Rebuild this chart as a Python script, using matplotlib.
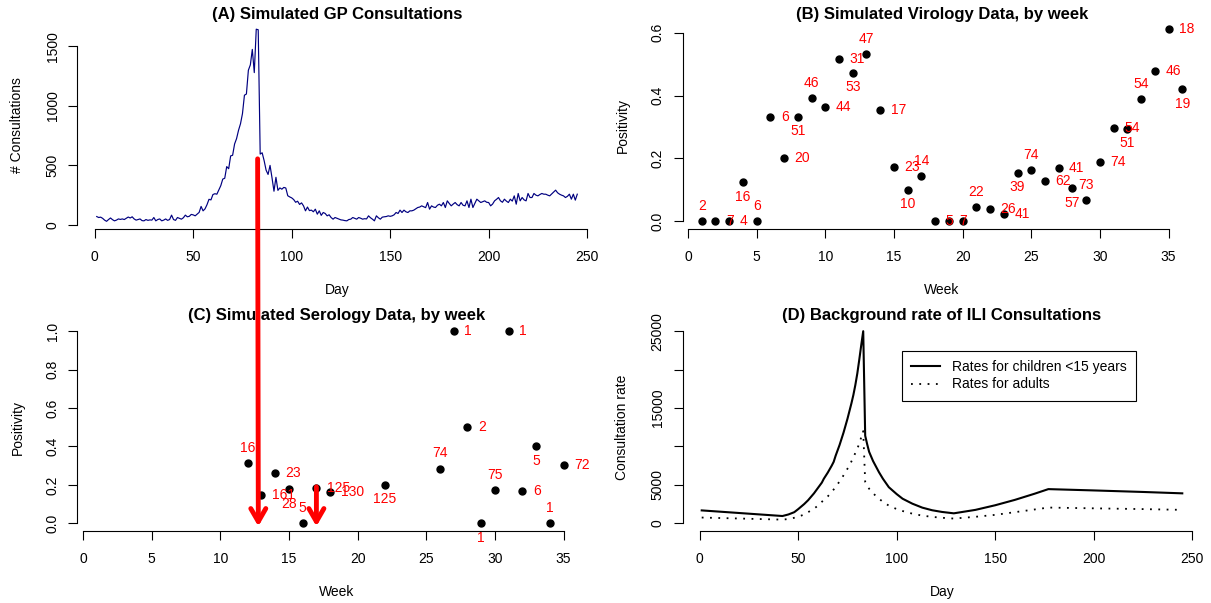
import matplotlib

matplotlib.use("Agg")
import matplotlib.pyplot as plt
from matplotlib.patches import ArrowStyle, ConnectionPatch

plt.rcParams["font.family"] = ["Liberation Sans", "DejaVu Sans"]
plt.rcParams["font.size"] = 10

# (A) simulated GP consultations, one value per day (day 1..245)
gp_counts = [
    70, 62, 65, 55, 40, 30, 45, 58, 44, 34,
    40, 50, 46, 50, 45, 55, 66, 58, 68, 50,
    40, 45, 50, 36, 34, 45, 38, 42, 40, 62,
    34, 45, 50, 34, 40, 50, 38, 45, 82, 45,
    38, 62, 55, 48, 60, 82, 68, 72, 88, 84,
    76, 90, 105, 155, 118, 135, 170, 215, 210, 255,
    262, 258, 295, 330, 385, 392, 490, 472, 580, 585,
    680, 725, 795, 850, 935, 1090, 1100, 1300, 1345, 1475,
    1280, 1645, 1640, 595, 606, 540, 460, 424, 500, 396,
    283, 400, 290, 311, 300, 315, 310, 245, 235, 227,
    213, 190, 199, 172, 185, 160, 118, 150, 120, 124,
    110, 132, 90, 118, 80, 104, 96, 76, 85, 62,
    48, 62, 55, 48, 42, 40, 36, 34, 45, 48,
    62, 55, 48, 62, 56, 48, 52, 50, 76, 60,
    48, 34, 76, 60, 48, 65, 68, 70, 76, 72,
    76, 85, 104, 96, 124, 104, 124, 110, 104, 118,
    118, 124, 135, 146, 150, 160, 152, 145, 188, 132,
    160, 150, 146, 165, 174, 160, 188, 146, 202, 180,
    160, 175, 188, 170, 160, 188, 165, 160, 202, 146,
    216, 146, 180, 216, 202, 188, 195, 202, 190, 188,
    160, 175, 202, 215, 230, 202, 190, 216, 200, 188,
    216, 200, 244, 174, 264, 202, 230, 210, 202, 264,
    230, 230, 264, 250, 244, 255, 264, 258, 258, 250,
    244, 260, 275, 292, 270, 258, 250, 244, 230, 240,
    258, 216, 258, 208, 258,
]
gp_days = list(range(1, len(gp_counts) + 1))

# (B) virology: positivity and number of samples per week
vir_weeks = list(range(1, 37))
vir_pos = [0, 0, 0, 0.125, 0, 0.333, 0.2, 0.333, 0.391, 0.364, 0.516, 0.472,
           0.532, 0.353, 0.174, 0.1, 0.143, 0, 0, 0, 0.045, 0.038, 0.024, 0.154,
           0.162, 0.129, 0.171, 0.105, 0.068, 0.189, 0.296, 0.294, 0.389, 0.478,
           0.611, 0.421]
vir_n = ["2", "7", "4", "16", "6", "6", "20", "51", "46", "44", "31", "53",
         "47", "17", "23", "10", "14", "5", "7", "", "22", "26", "41", "39",
         "74", "62", "41", "57", "73", "74", "54", "51", "54", "46", "18", "19"]

# (C) serology
ser_weeks = [12, 13, 14, 15, 16, 17, 18, 22, 26, 27, 28, 29, 30, 31, 32, 33, 34, 35]
ser_pos = [0.3125, 0.149, 0.261, 0.179, 0.0, 0.184, 0.1615, 0.2, 0.284, 1.0,
           0.5, 0.0, 0.173, 1.0, 0.167, 0.4, 0.0, 0.306]
ser_n = ["16", "161", "23", "28", "5", "125", "130", "125", "74", "1", "2", "1",
         "75", "1", "6", "5", "1", "72"]

# (D) background ILI consultation rates
child_days = [1, 42, 45, 48, 50, 53, 55, 58, 60, 62, 63, 65, 67, 68, 69, 70, 71,
              72, 73, 74, 75, 76, 77, 78, 79, 80, 81, 82, 83, 84, 85, 86, 88,
              91, 93, 96, 100, 103, 108, 113, 118, 123, 129, 140, 150, 160, 170,
              177, 200, 225, 245]
child_rate = [1680, 950, 1150, 1450, 1850, 2500, 3000, 3900, 4600, 5300, 5800,
              6600, 7500, 8000, 8800, 9500, 10200, 11000, 11800, 12700, 13600,
              14600, 15600, 16700, 18000, 19500, 21300, 23200, 25000, 11400, 10300,
              9300, 8100, 6650, 5800, 4700, 3800, 3200, 2550, 2040, 1700, 1480,
              1300, 1750, 2350, 3050, 3850, 4450, 4280, 4080, 3900]
adult_days = [1, 42, 45, 48, 50, 53, 55, 58, 60, 62, 65, 68, 70, 72, 74, 76, 78,
              80, 81, 82, 83, 84, 85, 86, 88, 91, 93, 96, 100, 103, 108, 113,
              118, 123, 129, 140, 150, 160, 170, 177, 200, 225, 245]
adult_rate = [750, 480, 560, 720, 850, 1150, 1450, 1900, 2300, 2800, 3500, 4400,
              5100, 5800, 6700, 7500, 8600, 9700, 10400, 11200, 12000, 5400, 4900,
              4500, 3900, 3200, 2800, 2300, 1850, 1600, 1250, 1000, 840, 720, 620,
              850, 1100, 1450, 1800, 2050, 1950, 1850, 1750]

# red arrows: epidemic peak in (A) carried down to the serology weeks in (C)
peak_day, peak_arrow_top = 82.7, 555
arrow_weeks = [12.77, 17.0]
arrow2_top = 0.19

W, H = 1211, 603
LABEL_SIDES = ["above", "right", "right", "below"]


def r_lim(lo, hi):
    pad = 0.04 * (hi - lo)
    return lo - pad, hi + pad


def add_panel(fig, left, top, right, bottom):
    return fig.add_axes([left / W, 1 - bottom / H, (right - left) / W, (bottom - top) / H])


def style_axes(ax, xticks, yticks, ylabels=None):
    for side in ("top", "right"):
        ax.spines[side].set_visible(False)
    ax.spines["left"].set_bounds(yticks[0], yticks[-1])
    ax.spines["bottom"].set_bounds(xticks[0], xticks[-1])
    for side in ("left", "bottom"):
        ax.spines[side].set_linewidth(0.8)
    ax.set_xticks(xticks)
    ax.set_yticks(yticks)
    if ylabels is None:
        ylabels = [str(t) for t in yticks]
    ax.set_yticklabels(ylabels, rotation=90, va="center")
    ax.tick_params(direction="out", length=6.2, width=0.8, labelsize=10)
    ax.tick_params(axis="x", pad=9)
    ax.tick_params(axis="y", pad=6.6)


def label_panel(fig, box, title, xlabel, ylabel):
    left, top, right, bottom = box
    cx, cy = (left + right) / 2, (top + bottom) / 2
    fig.text(cx / W, 1 - (top - 7.5) / H, title, ha="center", va="center",
             fontsize=12, fontweight="bold")
    fig.text(cx / W, 1 - (bottom + 61) / H, xlabel, ha="center", va="center")
    fig.text((left - 60) / W, 1 - cy / H, ylabel, ha="center", va="center", rotation=90)


def label_points(ax, xs, ys, labels):
    offsets = {"above": ((0, 11), "center"), "right": ((7.5, 0), "left"),
               "below": ((0, -10.5), "center")}
    for i, (x, y, lab) in enumerate(zip(xs, ys, labels)):
        off, ha = offsets[LABEL_SIDES[i % 4]]
        ax.annotate(lab, (x, y), xytext=off, textcoords="offset points",
                    ha=ha, va="center", color="#FF0000", fontsize=10)


def main() -> None:
    fig = plt.figure(figsize=(W / 100, H / 100), dpi=100)

    box_a = (77.5, 21.5, 596.5, 229)
    box_b = (682.5, 21.5, 1201.5, 229)
    box_c = (77.5, 323.5, 596.5, 531)
    box_d = (682.5, 323.5, 1201.5, 531)

    ax_a = add_panel(fig, *box_a)
    ax_a.plot(gp_days, gp_counts, color="#000080", linewidth=0.85)
    ax_a.set_xlim(r_lim(min(gp_days), max(gp_days)))
    ax_a.set_ylim(r_lim(min(gp_counts), max(gp_counts)))
    style_axes(ax_a, [0, 50, 100, 150, 200, 250], [0, 500, 1000, 1500])
    label_panel(fig, box_a, "(A) Simulated GP Consultations", "Day", "# Consultations")

    ax_b = add_panel(fig, *box_b)
    ax_b.plot(vir_weeks, vir_pos, "o", color="black", markersize=5, clip_on=False)
    label_points(ax_b, vir_weeks, vir_pos, vir_n)
    ax_b.set_xlim(r_lim(min(vir_weeks), max(vir_weeks)))
    ax_b.set_ylim(r_lim(min(vir_pos), max(vir_pos)))
    style_axes(ax_b, list(range(0, 36, 5)), [0, 0.2, 0.4, 0.6],
               ["0.0", "0.2", "0.4", "0.6"])
    label_panel(fig, box_b, "(B) Simulated Virology Data, by week", "Week", "Positivity")

    ax_c = add_panel(fig, *box_c)
    ax_c.plot(ser_weeks, ser_pos, "o", color="black", markersize=5, clip_on=False)
    label_points(ax_c, ser_weeks, ser_pos, ser_n)
    ax_c.set_xlim(r_lim(1, 36))
    ax_c.set_ylim(r_lim(0, 1))
    style_axes(ax_c, list(range(0, 36, 5)), [0, 0.2, 0.4, 0.6, 0.8, 1.0],
               ["0.0", "0.2", "0.4", "0.6", "0.8", "1.0"])
    label_panel(fig, box_c, "(C) Simulated Serology Data, by week", "Week", "Positivity")

    ax_d = add_panel(fig, *box_d)
    ax_d.plot(child_days, child_rate, color="black", linewidth=1.5,
              label="Rates for children <15 years")
    ax_d.plot(adult_days, adult_rate, color="black", linewidth=1.3,
              linestyle=(0, (1, 3.6)), label="Rates for adults")
    ax_d.set_xlim(r_lim(min(child_days), max(child_days)))
    ax_d.set_ylim(r_lim(0, 25000))
    style_axes(ax_d, [0, 50, 100, 150, 200, 250],
               [0, 5000, 10000, 15000, 20000, 25000],
               ["0", "5000", "", "15000", "", "25000"])
    leg_x = (902 - box_d[0]) / (box_d[2] - box_d[0])
    leg_y = 1 - (351 - box_d[1]) / (box_d[3] - box_d[1])
    leg = ax_d.legend(loc="upper left", bbox_to_anchor=(leg_x, leg_y),
                      borderaxespad=0, fancybox=False, edgecolor="black",
                      framealpha=1, handlelength=2.1, handletextpad=0.85,
                      borderpad=0.65, labelspacing=0.25, fontsize=10)
    leg.get_frame().set_linewidth(0.8)
    label_panel(fig, box_d, "(D) Background rate of ILI Consultations", "Day",
                "Consultation rate")

    head = ArrowStyle("->", head_length=0.935, head_width=0.54)
    arrow1 = ConnectionPatch(xyA=(peak_day, peak_arrow_top), coordsA=ax_a.transData,
                             xyB=(arrow_weeks[0], -0.016), coordsB=ax_c.transData,
                             arrowstyle=head, mutation_scale=10, color="#FF0000",
                             linewidth=3.5, shrinkA=0, shrinkB=0, zorder=5)
    fig.add_artist(arrow1)
    ax_c.annotate("", xy=(arrow_weeks[1], -0.016), xytext=(arrow_weeks[1], arrow2_top),
                  arrowprops=dict(arrowstyle=head, mutation_scale=10, color="#FF0000",
                                  linewidth=3.5, shrinkA=0, shrinkB=0))

    fig.savefig("out.png", dpi=100)


if __name__ == "__main__":
    main()
